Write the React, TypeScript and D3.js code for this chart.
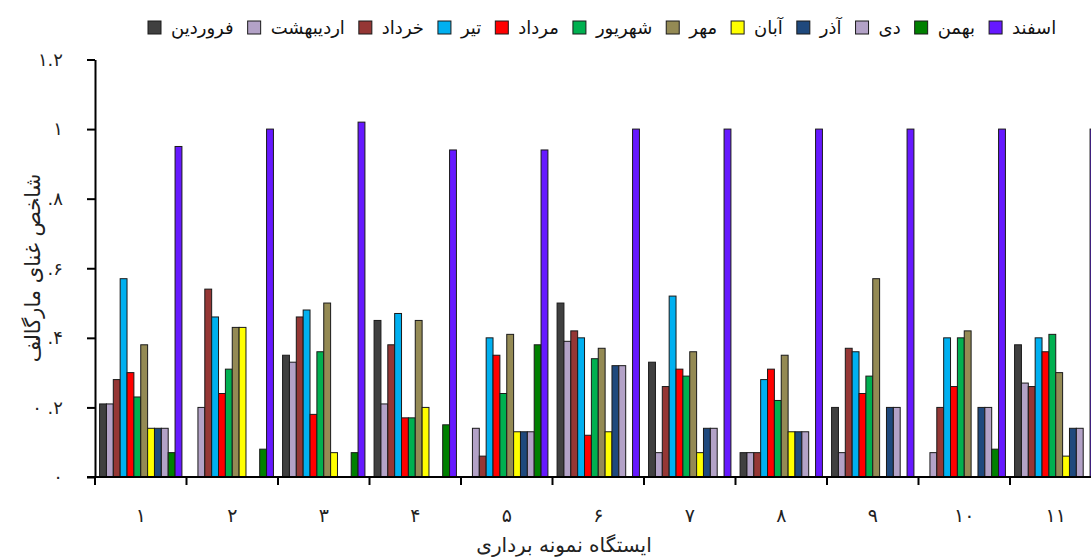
import React, { useRef, useEffect } from 'react';
import * as d3 from 'd3';

// stations on the x axis (Persian digits)
const stations = ['۱', '۲', '۳', '۴', '۵', '۶', '۷', '۸', '۹', '۱۰', '۱۱'];

// months = legend series
const months = ['فروردین', 'اردیبهشت', 'خرداد', 'تیر', 'مرداد', 'شهریور', 'مهر', 'آبان', 'آذر', 'دی', 'بهمن', 'اسفند'];
const monthColors = ['#404040', '#B3A2C7', '#953735', '#00B0F0', '#FF0000', '#00B050', '#948A54', '#FFFF00', '#1F497D', '#B3A2C7', '#008000', '#6619FF'];

// Margalef index per month, one value per station
const farvardin = [0.21, 0, 0.35, 0.45, 0, 0.5, 0.33, 0.07, 0.2, 0, 0.38];
const ordibehesht = [0.21, 0.2, 0.33, 0.21, 0.14, 0.39, 0.07, 0.07, 0.07, 0.07, 0.27];
const khordad = [0.28, 0.54, 0.46, 0.38, 0.06, 0.42, 0.26, 0.07, 0.37, 0.2, 0.26];
const tir = [0.57, 0.46, 0.48, 0.47, 0.4, 0.4, 0.52, 0.28, 0.36, 0.4, 0.4];
const mordad = [0.3, 0.24, 0.18, 0.17, 0.35, 0.12, 0.31, 0.31, 0.24, 0.26, 0.36];
const shahrivar = [0.23, 0.31, 0.36, 0.17, 0.24, 0.34, 0.29, 0.22, 0.29, 0.4, 0.41];
const mehr = [0.38, 0.43, 0.5, 0.45, 0.41, 0.37, 0.36, 0.35, 0.57, 0.42, 0.3];
const aban = [0.14, 0.43, 0.07, 0.2, 0.13, 0.13, 0.07, 0.13, 0, 0, 0.06];
const azar = [0.14, 0, 0, 0, 0.13, 0.32, 0.14, 0.13, 0.2, 0.2, 0.14];
const dey = [0.14, 0, 0, 0, 0.13, 0.32, 0.14, 0.13, 0.2, 0.2, 0.14];
const bahman = [0.07, 0.08, 0.07, 0.15, 0.38, 0, 0, 0, 0, 0.08, 0];
const esfand = [0.95, 1.0, 1.02, 0.94, 0.94, 1.0, 1.0, 1.0, 1.0, 1.0, 1.0];

const seriesValues = [farvardin, ordibehesht, khordad, tir, mordad, shahrivar, mehr, aban, azar, dey, bahman, esfand];

const yTicks = [0, 0.2, 0.4, 0.6, 0.8, 1, 1.2];
const yTickLabels = ['۰', '۰ .۲', '۰ .۴', '۰ .۶', '۰ .۸', '۱', '۱.۲'];

const yTitle = 'شاخص غنای مارگالف';
const xTitle = 'ایستگاه نمونه برداری';

const FONT = '"DejaVu Sans", sans-serif';

export default function App() {
  const svgRef = useRef<SVGSVGElement>(null);

  useEffect(() => {
    const svg = d3.select(svgRef.current);
    svg.selectAll('*').remove();

    const axisX = 95;
    const groupStep = 91.5;

    const x0 = d3.scaleBand<string>()
      .domain(stations)
      .range([axisX, axisX + groupStep * stations.length])
      .paddingInner(0.1)
      .paddingOuter(0.05);
    const x1 = d3.scaleBand<string>().domain(months).range([0, x0.bandwidth()]);
    const y = d3.scaleLinear().domain([0, 1.2]).range([477, 59.5]);

    // bars
    const rows = stations.map((s, i) => ({ station: s, values: months.map((m, j) => ({ month: m, color: monthColors[j], v: seriesValues[j][i] })) }));
    const g = svg.append('g');
    g.selectAll('g.station')
      .data(rows)
      .enter().append('g')
      .attr('transform', d => `translate(${x0(d.station)},0)`)
      .selectAll('rect')
      .data(d => d.values.filter(v => v.v > 0))
      .enter().append('rect')
      .attr('x', d => x1(d.month)!)
      .attr('y', d => y(d.v))
      .attr('width', x1.bandwidth())
      .attr('height', d => y(0) - y(d.v))
      .attr('fill', d => d.color)
      .attr('stroke', '#1a1a1a')
      .attr('stroke-width', 1);

    // y axis
    const yAxis = d3.axisLeft(y)
      .tickValues(yTicks)
      .tickFormat((d, i) => yTickLabels[i])
      .tickSize(8)
      .tickSizeOuter(0)
      .tickPadding(24);
    const ya = svg.append('g').attr('transform', `translate(${axisX},0)`).call(yAxis);
    ya.selectAll('path, line').attr('stroke', '#000').attr('stroke-width', 2);
    ya.selectAll('text').attr('font-family', FONT).attr('font-size', 18).attr('fill', '#222');

    // x axis
    svg.append('line')
      .attr('x1', axisX - 8).attr('x2', 1091)
      .attr('y1', y(0)).attr('y2', y(0))
      .attr('stroke', '#000').attr('stroke-width', 2);
    svg.selectAll('line.xtick')
      .data(stations)
      .enter().append('line')
      .attr('class', 'xtick')
      .attr('x1', d => x0(d)! - x0.step() * 0.05)
      .attr('x2', d => x0(d)! - x0.step() * 0.05)
      .attr('y1', y(0)).attr('y2', y(0) + 8)
      .attr('stroke', '#000').attr('stroke-width', 2);
    svg.selectAll('text.xlabel')
      .data(stations)
      .enter().append('text')
      .attr('class', 'xlabel')
      .attr('x', d => x0(d)! + x0.bandwidth() / 2)
      .attr('y', 522)
      .attr('text-anchor', 'middle')
      .attr('font-family', FONT)
      .attr('font-size', 19)
      .attr('fill', '#222')
      .text(d => d);

    // axis titles
    svg.append('text')
      .attr('x', 564).attr('y', 552)
      .attr('text-anchor', 'middle')
      .attr('font-family', FONT)
      .attr('font-size', 20)
      .attr('fill', '#222')
      .text(xTitle);
    svg.append('text')
      .attr('transform', 'translate(40,268) rotate(-90)')
      .attr('text-anchor', 'middle')
      .attr('font-family', FONT)
      .attr('font-size', 21)
      .attr('fill', '#222')
      .text(yTitle);

    // legend, laid out left to right
    const legend = svg.append('g');
    let lx = 148;
    months.forEach((m, i) => {
      legend.append('rect')
        .attr('x', lx).attr('y', 21)
        .attr('width', 13).attr('height', 13)
        .attr('fill', monthColors[i])
        .attr('stroke', '#1a1a1a').attr('stroke-width', 1);
      const t = legend.append('text')
        .attr('x', lx + 23).attr('y', 34)
        .attr('font-family', FONT)
        .attr('font-size', 18)
        .attr('fill', '#111')
        .text(m);
      const w = (t.node() as SVGTextElement).getComputedTextLength();
      lx += 23 + w + 14;
    });
  }, []);

  return (
    <svg ref={svgRef} width={1091} height={559}
      style={{ position: 'absolute', left: 0, top: 0, background: '#fff' }} />
  );
}
